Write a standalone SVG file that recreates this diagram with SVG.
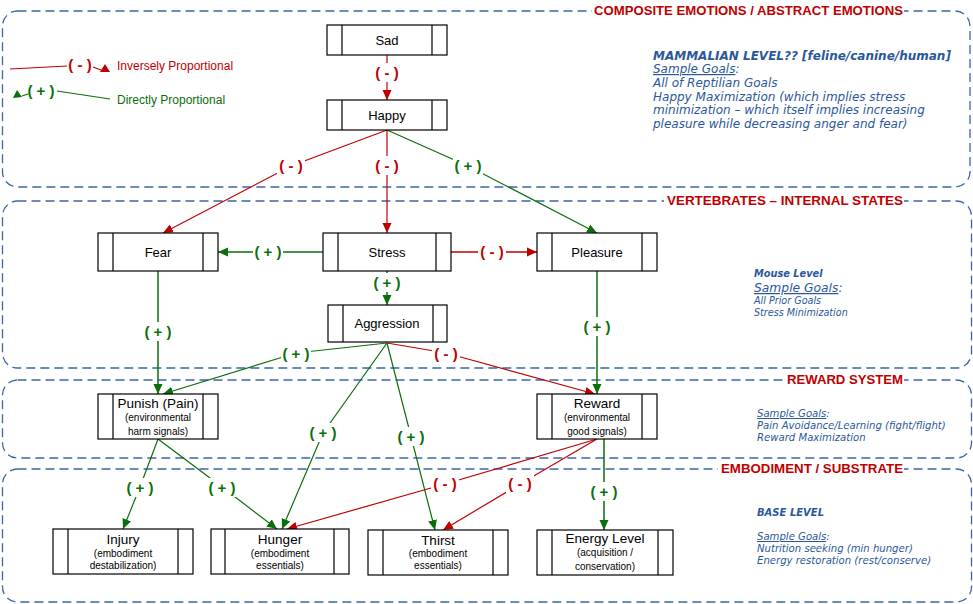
<svg xmlns="http://www.w3.org/2000/svg" width="973" height="604" viewBox="0 0 973 604">
<defs>
<marker id="ar" markerUnits="userSpaceOnUse" markerWidth="10" markerHeight="10" viewBox="0 0 10 10" refX="10" refY="5" orient="auto"><path d="M0,0.5 L10,5 L0,9.5 z" fill="#c00000"/></marker>
<marker id="ag" markerUnits="userSpaceOnUse" markerWidth="10" markerHeight="10" viewBox="0 0 10 10" refX="10" refY="5" orient="auto"><path d="M0,0.5 L10,5 L0,9.5 z" fill="#0a6e0a"/></marker>
</defs>
<style>
.panel{fill:none;stroke:#3a66a8;stroke-width:1.3;stroke-dasharray:9 5}
.ptitle{font-family:"Liberation Sans",Arial,sans-serif;font-size:12.5px;fill:#c00000;text-anchor:end;font-weight:bold}
.bg{fill:#ffffff}
.box{fill:#ffffff;stroke:#000000;stroke-width:1.2}
.bar{stroke:#000000;stroke-width:1.2}
.nt{font-family:"Liberation Sans",Arial,sans-serif;font-size:13px;fill:#000000;text-anchor:middle}
.nt2{font-family:"Liberation Sans",Arial,sans-serif;font-size:13.5px;fill:#000000;text-anchor:middle}
.ns{font-family:"Liberation Sans",Arial,sans-serif;font-size:10px;fill:#000000;text-anchor:middle}
.r{fill:none;stroke:#c00000;stroke-width:1.2}
.g{fill:none;stroke:#0a6e0a;stroke-width:1.2}
.lr{font-family:"Liberation Sans",Arial,sans-serif;font-size:15px;font-weight:bold;fill:#c00000;text-anchor:middle}
.lg{font-family:"Liberation Sans",Arial,sans-serif;font-size:15px;font-weight:bold;fill:#0a6e0a;text-anchor:middle}
.side{font-family:"DejaVu Sans",Verdana,sans-serif;font-style:italic;fill:#2b579a}
.u{text-decoration:underline}
</style>

<g id="panels">
<rect class="panel" x="2.5" y="11" width="967.5" height="176" rx="15"/>
<rect class="panel" x="2.5" y="201" width="969" height="167" rx="15"/>
<rect class="panel" x="2.5" y="380" width="969" height="78" rx="15"/>
<rect class="panel" x="2.5" y="469" width="969" height="133" rx="15"/>
<rect class="bg" x="592" y="3" width="312" height="15"/>
<rect class="bg" x="664" y="194" width="240" height="15"/>
<rect class="bg" x="784" y="373" width="120" height="15"/>
<rect class="bg" x="718" y="462" width="186" height="15"/>
<text class="ptitle" x="903" y="15" textLength="309" lengthAdjust="spacingAndGlyphs">COMPOSITE EMOTIONS / ABSTRACT EMOTIONS</text>
<text class="ptitle" x="903" y="205" textLength="236" lengthAdjust="spacingAndGlyphs">VERTEBRATES – INTERNAL STATES</text>
<text class="ptitle" x="903" y="384" textLength="116" lengthAdjust="spacingAndGlyphs">REWARD SYSTEM</text>
<text class="ptitle" x="903" y="473" textLength="182" lengthAdjust="spacingAndGlyphs">EMBODIMENT / SUBSTRATE</text>
</g>

<g id="legend">
<path class="r" d="M10,69 L67,66"/>
<rect class="bg" x="67" y="56" width="26" height="18"/>
<text class="lr" x="80" y="70">( - )</text>
<path class="r" d="M93,67 L101,70"/>
<polygon points="100,72 105,64 110,72" fill="#c00000"/>
<text x="117" y="70" font-family="Liberation Sans, Arial, sans-serif" font-size="12" fill="#c00000">Inversely Proportional</text>
<polygon points="13,98 17,90 22,97" fill="#0a6e0a"/>
<path class="g" d="M22,96 L28,94"/>
<text class="lg" x="41" y="96">( + )</text>
<path class="g" d="M57,91 L110,99"/>
<text x="117" y="104" font-family="Liberation Sans, Arial, sans-serif" font-size="12" fill="#0a6e0a">Directly Proportional</text>
</g>

<g id="connectors">
<path class="r" d="M387,55 L387,100" marker-end="url(#ar)"/>
<path class="r" d="M387,130 L291,166 L163,233" marker-end="url(#ar)"/>
<path class="r" d="M387,130 L387,233" marker-end="url(#ar)"/>
<path class="g" d="M387,130 L468,166 L597,233" marker-end="url(#ag)"/>
<path class="g" d="M323,252 L218,252" marker-end="url(#ag)" style="stroke-width:1.5"/>
<path class="r" d="M451,252 L537,252" marker-end="url(#ar)" style="stroke-width:1.5"/>
<path class="g" d="M387,271 L387,305" marker-end="url(#ag)" style="stroke-width:1.5"/>
<path class="g" d="M158,271 L158,394" marker-end="url(#ag)" style="stroke-width:1.5"/>
<path class="g" d="M597,271 L597,394" marker-end="url(#ag)" style="stroke-width:1.5"/>
<path class="g" d="M387,343 L296,353 L163,394" marker-end="url(#ag)"/>
<path class="r" d="M387,343 L446,353 L595,394" marker-end="url(#ar)"/>
<path class="g" d="M387,343 L323,433 L282,529" marker-end="url(#ag)"/>
<path class="g" d="M387,343 L435,530" marker-end="url(#ag)"/>
<path class="g" d="M158,439 L140,487 L123,529" marker-end="url(#ag)"/>
<path class="g" d="M158,439 L222,487 L277,529" marker-end="url(#ag)"/>
<path class="r" d="M597,439 L445,484 L287,529" marker-end="url(#ar)"/>
<path class="r" d="M597,439 L520,484 L443,530" marker-end="url(#ar)"/>
<path class="g" d="M604,439 L604,530" marker-end="url(#ag)" style="stroke-width:1.5"/>

<g id="labels">
<rect class="bg" x="373" y="63" width="28" height="19"/>
<text class="lr" x="387" y="78">( - )</text>
<rect class="bg" x="277" y="156" width="28" height="19"/>
<text class="lr" x="291" y="171">( - )</text>
<rect class="bg" x="373" y="156" width="28" height="19"/>
<text class="lr" x="387" y="171">( - )</text>
<rect class="bg" x="453" y="156" width="30" height="19"/>
<text class="lg" x="468" y="171">( + )</text>
<rect class="bg" x="253" y="242" width="30" height="19"/>
<text class="lg" x="268" y="257">( + )</text>
<rect class="bg" x="478" y="242" width="28" height="19"/>
<text class="lr" x="492" y="257">( - )</text>
<rect class="bg" x="372" y="273" width="30" height="19"/>
<text class="lg" x="387" y="288">( + )</text>
<rect class="bg" x="143" y="322" width="30" height="19"/>
<text class="lg" x="158" y="337">( + )</text>
<rect class="bg" x="582" y="317" width="30" height="19"/>
<text class="lg" x="597" y="332">( + )</text>
<rect class="bg" x="281" y="344" width="30" height="19"/>
<text class="lg" x="296" y="359">( + )</text>
<rect class="bg" x="432" y="344" width="28" height="19"/>
<text class="lr" x="446" y="359">( - )</text>
<rect class="bg" x="308" y="423" width="30" height="19"/>
<text class="lg" x="323" y="438">( + )</text>
<rect class="bg" x="396" y="427" width="30" height="19"/>
<text class="lg" x="411" y="442">( + )</text>
<rect class="bg" x="125" y="478" width="30" height="19"/>
<text class="lg" x="140" y="493">( + )</text>
<rect class="bg" x="207" y="478" width="30" height="19"/>
<text class="lg" x="222" y="493">( + )</text>
<rect class="bg" x="431" y="474" width="28" height="19"/>
<text class="lr" x="445" y="489">( - )</text>
<rect class="bg" x="506" y="474" width="28" height="19"/>
<text class="lr" x="520" y="489">( - )</text>
<rect class="bg" x="589" y="482" width="30" height="19"/>
<text class="lg" x="604" y="497">( + )</text>
</g>
</g>

<g id="sad"><rect class="box" x="327" y="25" width="120" height="30"/><path class="bar" d="M342,25 V55 M432,25 V55"/><text class="nt" x="387" y="45">Sad</text></g>
<g id="happy"><rect class="box" x="327" y="100" width="120" height="30"/><path class="bar" d="M342,100 V130 M432,100 V130"/><text class="nt" x="387" y="120">Happy</text></g>
<g id="fear"><rect class="box" x="98" y="233" width="120" height="38"/><path class="bar" d="M113,233 V271 M203,233 V271"/><text class="nt" x="158" y="257">Fear</text></g>
<g id="stress"><rect class="box" x="323" y="233" width="128" height="38"/><path class="bar" d="M338,233 V271 M436,233 V271"/><text class="nt" x="387" y="257">Stress</text></g>
<g id="pleasure"><rect class="box" x="537" y="233" width="120" height="38"/><path class="bar" d="M552,233 V271 M642,233 V271"/><text class="nt" x="597" y="257">Pleasure</text></g>
<g id="aggression"><rect class="box" x="328" y="305" width="119" height="37"/><path class="bar" d="M343,305 V342 M433,305 V342"/><text class="nt" x="387" y="328">Aggression</text></g>
<g id="punish"><rect class="box" x="98" y="394" width="120" height="45"/><path class="bar" d="M113,394 V439 M203,394 V439"/><text class="nt2" x="158" y="408">Punish (Pain)</text><text class="ns" x="158" y="421">(environmental</text><text class="ns" x="158" y="435">harm signals)</text></g>
<g id="reward"><rect class="box" x="537" y="394" width="120" height="45"/><path class="bar" d="M552,394 V439 M642,394 V439"/><text class="nt2" x="597" y="408">Reward</text><text class="ns" x="597" y="421">(environmental</text><text class="ns" x="597" y="435">good signals)</text></g>
<g id="injury"><rect class="box" x="53" y="529" width="140" height="45"/><path class="bar" d="M68,529 V574 M178,529 V574"/><text class="nt2" x="123" y="544">Injury</text><text class="ns" x="123" y="557">(embodiment</text><text class="ns" x="123" y="569">destabilization)</text></g>
<g id="hunger"><rect class="box" x="211" y="529" width="138" height="45"/><path class="bar" d="M225,529 V574 M334,529 V574"/><text class="nt2" x="280" y="544">Hunger</text><text class="ns" x="280" y="557">(embodiment</text><text class="ns" x="280" y="569">essentials)</text></g>
<g id="thirst"><rect class="box" x="368" y="530" width="140" height="45"/><path class="bar" d="M383,530 V575 M493,530 V575"/><text class="nt2" x="438" y="545">Thirst</text><text class="ns" x="438" y="557">(embodiment</text><text class="ns" x="438" y="569">essentials)</text></g>
<g id="energy"><rect class="box" x="537" y="530" width="136" height="45"/><path class="bar" d="M552,530 V575 M658,530 V575"/><text class="nt2" x="605" y="543">Energy Level</text><text class="ns" x="605" y="556">(acquisition /</text><text class="ns" x="605" y="570">conservation)</text></g>

<g id="notes">
<text class="side" font-size="12" x="653" y="60"><tspan font-weight="bold">MAMMALIAN LEVEL?? [feline/canine/human]</tspan>
<tspan x="653" y="73"><tspan class="u">Sample Goals</tspan>:</tspan>
<tspan x="653" y="87">All of Reptilian Goals</tspan>
<tspan x="653" y="101">Happy Maximization (which implies stress</tspan>
<tspan x="653" y="114">minimization – which itself implies increasing</tspan>
<tspan x="653" y="128">pleasure while decreasing anger and fear)</tspan></text>
<text class="side" font-size="9.8" x="754" y="277" font-weight="bold">Mouse Level</text>
<text class="side" font-size="12.3" x="754" y="292"><tspan class="u">Sample Goals</tspan>:</text>
<text class="side" font-size="9.6" x="754" y="304">All Prior Goals</text>
<text class="side" font-size="9.6" x="754" y="316">Stress Minimization</text>
<text class="side" font-size="10.1" x="757" y="417"><tspan class="u">Sample Goals</tspan>:</text>
<text class="side" font-size="10.1" x="757" y="429">Pain Avoidance/Learning (fight/flight)</text>
<text class="side" font-size="10.1" x="757" y="441">Reward Maximization</text>
<text class="side" font-size="10" x="757" y="516" font-weight="bold">BASE LEVEL</text>
<text class="side" font-size="10.1" x="757" y="540"><tspan class="u">Sample Goals</tspan>:</text>
<text class="side" font-size="10.1" x="757" y="552">Nutrition seeking (min hunger)</text>
<text class="side" font-size="10.1" x="757" y="564">Energy restoration (rest/conserve)</text>
</g>
</svg>
